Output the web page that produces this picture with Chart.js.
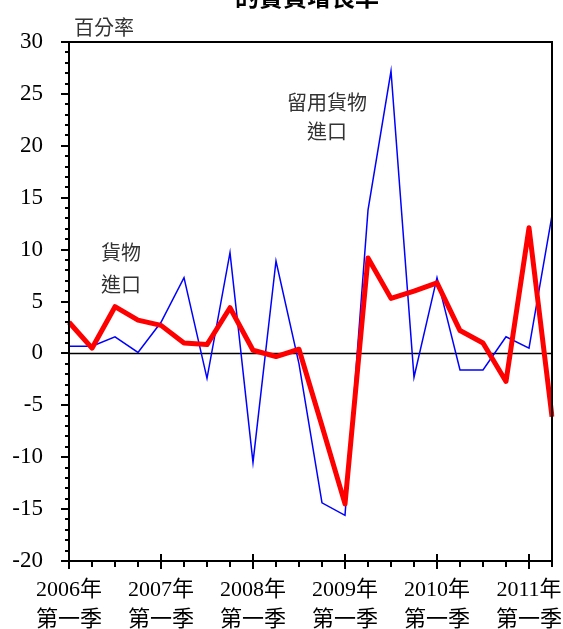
<!DOCTYPE html>
<html>
<head>
<meta charset="utf-8">
<script src="https://cdn.jsdelivr.net/npm/chart.js@4.4.0/dist/chart.umd.min.js"></script>
<style>
  html, body { margin: 0; padding: 0; background: #fff; }
  #wrap { width: 563px; height: 629px; }
</style>
</head>
<body>
<div id="wrap"><canvas id="lineChart" width="563" height="629"></canvas></div>
<script>
var years = [2006, 2007, 2008, 2009, 2010, 2011];
var quarters = ['第一季', '第二季', '第三季', '第四季'];

// 貨物進口 (thick red)
var goodsImports = [3.0, 0.5, 4.5, 3.2, 2.7, 1.0, 0.85, 4.4, 0.3, -0.3, 0.4, -7.0,
  -14.5, 9.2, 5.3, 6.0, 6.8, 2.2, 1.0, -2.7, 12.1, -6.1];
// 留用貨物進口 (thin blue)
var retainedImports = [0.7, 0.7, 1.6, 0.1, 3.0, 7.3, -2.4, 9.7, -10.5, 8.9, -1.0, -14.4,
  -15.6, 13.8, 27.2, -2.3, 7.3, -1.6, -1.6, 1.6, 0.5, 13.3];

var yMin = -20, yMax = 30, yStep = 5;

var labels = [];
for (var i = 0; i < goodsImports.length; i++) {
  labels.push(years[Math.floor(i / 4)] + '年' + quarters[i % 4]);
}

var serif = '"Liberation Serif", "Noto Sans CJK TC", serif';
var cjk = '"Noto Sans CJK TC", sans-serif';

var decorations = {
  id: 'decorations',
  beforeDatasetsDraw: function(chart) {
    var ctx = chart.ctx, a = chart.chartArea, y = chart.scales.y;
    var y0 = y.getPixelForValue(0);
    ctx.save();
    ctx.strokeStyle = '#000';
    ctx.lineWidth = 1.5;
    ctx.beginPath();
    ctx.moveTo(a.left, y0);
    ctx.lineTo(a.right, y0);
    ctx.stroke();
    ctx.restore();
  },
  afterDraw: function(chart) {
    var ctx = chart.ctx, a = chart.chartArea;
    var x = chart.scales.x, y = chart.scales.y;
    ctx.save();
    ctx.strokeStyle = '#000';
    ctx.lineWidth = 2;
    ctx.strokeRect(a.left, a.top, a.right - a.left, a.bottom - a.top);

    ctx.beginPath();
    for (var v = yMin; v <= yMax; v++) {
      var py = Math.round(y.getPixelForValue(v));
      var len = (v % 5 === 0) ? 8 : 4;
      ctx.moveTo(a.left - len, py);
      ctx.lineTo(a.left, py);
    }
    for (var i = 0; i < labels.length; i++) {
      var px = Math.round(x.getPixelForValue(i));
      if (i % 4 === 0) {
        ctx.moveTo(px, a.bottom - 7);
        ctx.lineTo(px, a.bottom + 8);
      } else {
        ctx.moveTo(px, a.bottom);
        ctx.lineTo(px, a.bottom + 6);
      }
    }
    ctx.stroke();

    // title (cut off at the top edge)
    ctx.fillStyle = '#000';
    ctx.font = 'bold 24px ' + cjk;
    ctx.textAlign = 'center';
    ctx.textBaseline = 'middle';
    ctx.fillText('的實質增長率', 307, -3);

    ctx.fillStyle = '#333';
    ctx.font = '20px ' + cjk;
    ctx.textAlign = 'left';
    ctx.fillText('百分率', 74, 27);
    ctx.textAlign = 'center';
    ctx.fillText('貨物', 121, 252);
    ctx.fillText('進口', 121, 284);
    ctx.fillText('留用貨物', 327, 102);
    ctx.fillText('進口', 327, 131);
    ctx.restore();
  }
};

var ctx = document.getElementById('lineChart').getContext('2d');
var chart = new Chart(ctx, {
  type: 'line',
  data: {
    labels: labels,
    datasets: [{
      label: '貨物進口',
      data: goodsImports,
      borderColor: '#ff0000',
      borderWidth: 5,
      pointRadius: 0,
      tension: 0,
      borderJoinStyle: 'round'
    }, {
      label: '留用貨物進口',
      data: retainedImports,
      borderColor: '#0000ff',
      borderWidth: 1.5,
      pointRadius: 0,
      tension: 0
    }]
  },
  options: {
    responsive: false,
    animation: false,
    layout: { padding: { left: 0, right: 11, top: 42, bottom: 0 } },
    plugins: {
      legend: { display: false },
      tooltip: { enabled: false },
      title: { display: false }
    },
    scales: {
      x: {
        offset: false,
        grid: { display: false, drawTicks: false },
        border: { display: false },
        ticks: {
          autoSkip: false,
          maxRotation: 0,
          padding: 14,
          color: '#000',
          font: { family: serif, size: 22, lineHeight: 1.36 },
          callback: function(val, idx) {
            return idx % 4 === 0 ? [years[idx / 4] + '年', '第一季'] : '';
          }
        },
        afterFit: function(s) {
          s.height = 68;
          s.paddingLeft = 0;
          s.paddingRight = 0;
        }
      },
      y: {
        min: yMin,
        max: yMax,
        grid: { display: false, drawTicks: false },
        border: { display: false },
        ticks: {
          stepSize: yStep,
          padding: 26,
          color: '#000',
          font: { family: serif, size: 23 }
        },
        afterFit: function(s) {
          s.width = 69;
          s.paddingTop = 0;
          s.paddingBottom = 0;
        }
      }
    }
  },
  plugins: [decorations]
});
</script>
</body>
</html>
